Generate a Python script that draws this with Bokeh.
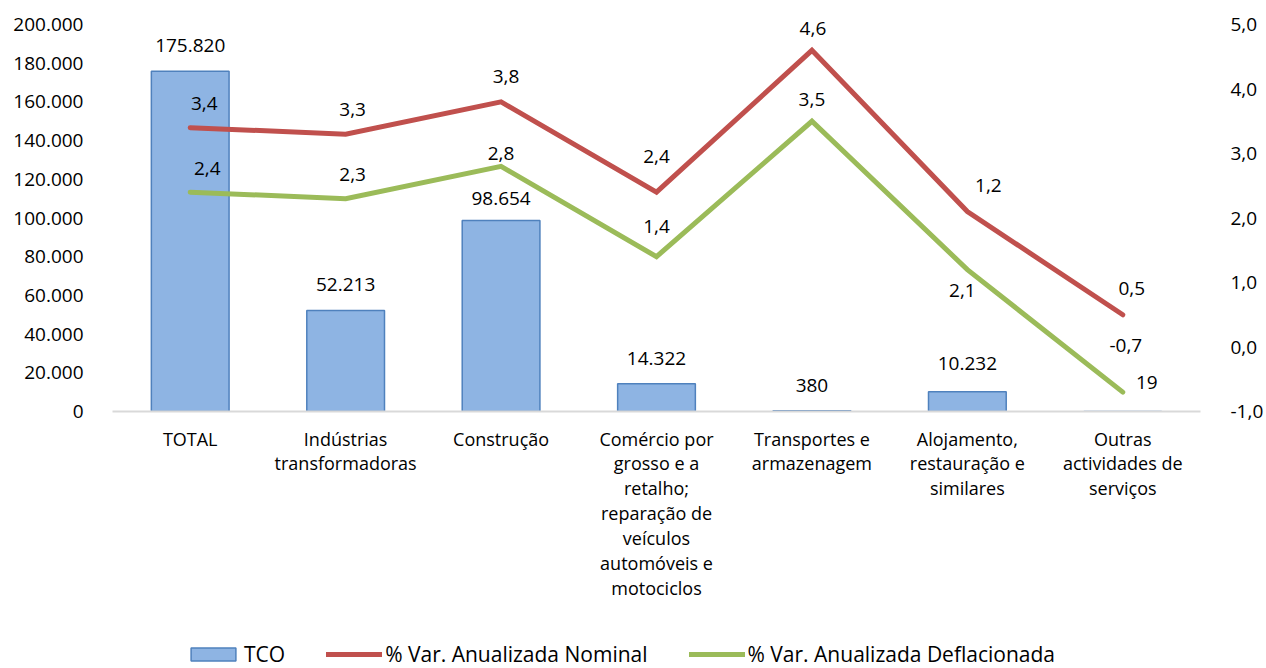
from bokeh.plotting import figure
from bokeh.models import (Range1d, LinearAxis, FixedTicker, ColumnDataSource,
                          Legend, LegendItem)
from bokeh.layouts import column
from bokeh.core.properties import value
from bokeh.embed import file_html
from bokeh.resources import INLINE

# ---------------- data ----------------
categories = ["TOTAL", "Indústrias\ntransformadoras", "Construção",
              "Comércio por\ngrosso e a\nretalho;\nreparação de\nveículos\nautomóveis e\nmotociclos",
              "Transportes e\narmazenagem", "Alojamento,\nrestauração e\nsimilares",
              "Outras\nactividades de\nserviços"]
tco = [175820, 52213, 98654, 14322, 380, 10232, 19]
nominal = [3.4, 3.3, 3.8, 2.4, 4.6, 2.1, 0.5]
deflated = [2.4, 2.3, 2.8, 1.4, 3.5, 1.2, -0.7]
nominal_labels = ["3,4", "3,3", "3,8", "2,4", "4,6", "1,2", "0,5"]
deflated_labels = ["2,4", "2,3", "2,8", "1,4", "3,5", "2,1", "-0,7"]
left_ticks = [0, 20000, 40000, 60000, 80000, 100000, 120000, 140000, 160000, 180000, 200000]
right_ticks = [-1, 0, 1, 2, 3, 4, 5]
series_names = ["TCO", "% Var. Anualizada Nominal", "% Var. Anualizada Deflacionada"]

# label offsets in screen pixels (style)
bar_dx = [0, 0, 0, 0, 0, 0, 24]
bar_dy = [-26, -26, -22, -25, -25, -28, -29]
nom_dx = [14, 7, 5, 0, 1, 21, 9]
nom_dy = [-24, -25, -25, -36, -22, -26, -26]
def_dx = [17, 7, 0, 0, 0, -5, 3]
def_dy = [-24, -24, -13, -30, -22, 21, -47]

FONT = "Open Sans"
FS = "19px"
BAR_FILL = "#8EB4E3"
BAR_LINE = "#4F81BD"
RED = "#C0504D"
GREEN = "#9BBB59"

def thousands(v):
    return f"{v:,}".replace(",", ".")

xs = list(range(len(categories)))
src = ColumnDataSource(dict(
    x=xs, tco=tco, nominal=nominal, deflated=deflated,
    tco_lbl=[thousands(v) for v in tco],
    nom_lbl=nominal_labels, def_lbl=deflated_labels,
    bdx=bar_dx, bdy=bar_dy, ndx=nom_dx, ndy=nom_dy, ddx=def_dx, ddy=def_dy,
))

W, H_MAIN, H_LEG = 1266, 624, 44
TOP_PAD = 24            # px of headroom above the 200.000 / 5,0 gridline
FRAME_H = 387           # px between 0 and 200.000
L_MAX = left_ticks[-1] * (FRAME_H + TOP_PAD) / FRAME_H
R_MIN, R_MAX0 = right_ticks[0], right_ticks[-1]
R_MAX = R_MIN + (R_MAX0 - R_MIN) * (FRAME_H + TOP_PAD) / FRAME_H

p = figure(width=W, height=H_MAIN, output_backend="svg", toolbar_location=None,
           x_range=Range1d(-0.5, len(categories) - 0.5), y_range=Range1d(0, L_MAX),
           min_border_left=112, min_border_right=W - 1203, min_border_top=0,
           min_border_bottom=H_MAIN - 411)
p.outline_line_color = None
p.xgrid.visible = False
p.ygrid.visible = False
p.extra_y_ranges = {"right": Range1d(R_MIN, R_MAX)}

bar_style = dict(fill_color=BAR_FILL, line_color=BAR_LINE, line_width=1.5)
nom_style = dict(line_color=RED, line_width=5, line_cap="round", line_join="miter")
def_style = dict(line_color=GREEN, line_width=5, line_cap="round", line_join="miter")

p.vbar(x="x", top="tco", width=0.5, source=src, **bar_style)
p.line(x="x", y="nominal", source=src, y_range_name="right", **nom_style)
p.line(x="x", y="deflated", source=src, y_range_name="right", **def_style)

common = dict(text_font=value(FONT), text_font_size=FS, text_color="#000000",
              text_align="center", text_baseline="middle")
p.text(x="x", y="tco", text="tco_lbl", x_offset="bdx", y_offset="bdy", source=src, **common)
p.text(x="x", y="nominal", text="nom_lbl", x_offset="ndx", y_offset="ndy", source=src,
       y_range_name="right", **common)
p.text(x="x", y="deflated", text="def_lbl", x_offset="ddx", y_offset="ddy", source=src,
       y_range_name="right", **common)

# left axis
ya = p.yaxis[0]
ya.ticker = FixedTicker(ticks=left_ticks)
ya.major_label_overrides = {t: thousands(t) for t in left_ticks}
ya.axis_line_color = None
ya.major_tick_line_color = None
ya.minor_tick_line_color = None
ya.major_label_standoff = 23
ya.major_label_text_font = FONT
ya.major_label_text_font_size = FS
ya.major_label_text_color = "#000000"

# right axis
ra = LinearAxis(y_range_name="right", ticker=FixedTicker(ticks=right_ticks))
ra.major_label_overrides = {t: f"{t:.1f}".replace(".", ",") for t in right_ticks}
ra.axis_line_color = None
ra.major_tick_line_color = None
ra.minor_tick_line_color = None
ra.major_label_standoff = 24
ra.major_label_text_font = FONT
ra.major_label_text_font_size = FS
ra.major_label_text_color = "#000000"
p.add_layout(ra, "right")

# bottom axis
xa = p.xaxis[0]
xa.ticker = FixedTicker(ticks=xs)
xa.major_label_overrides = {i: c for i, c in enumerate(categories)}
xa.axis_line_color = "#D9D9D9"
xa.axis_line_width = 2
xa.major_tick_line_color = None
xa.minor_tick_line_color = None
xa.major_label_standoff = 9
xa.major_label_text_font = FONT
xa.major_label_text_font_size = "18px"
xa.major_label_text_line_height = 1.04
xa.major_label_text_color = "#000000"

# ---- legend strip: same series; a selection makes every drawn mark transparent,
#      while the legend swatches use the normal glyph styles ----
lsrc = ColumnDataSource(dict(x=xs, tco=tco, nominal=nominal, deflated=deflated))
lsrc.selected.indices = [0]
hide_area = dict(selection_fill_alpha=0, selection_line_alpha=0,
                 nonselection_fill_alpha=0, nonselection_line_alpha=0)
hide_line = dict(selection_line_alpha=0, nonselection_line_alpha=0)

lf = figure(width=W, height=H_LEG, output_backend="svg", toolbar_location=None,
            x_range=Range1d(-0.5, len(categories) - 0.5), y_range=Range1d(0, L_MAX),
            min_border=0, x_axis_type=None, y_axis_type=None)
lf.outline_line_color = None
lf.xgrid.visible = False
lf.ygrid.visible = False
lf.extra_y_ranges = {"right": Range1d(R_MIN, R_MAX)}
r_bar = lf.vbar(x="x", top="tco", width=0.5, source=lsrc, **bar_style, **hide_area)
r_nom = lf.line(x="x", y="nominal", source=lsrc, y_range_name="right", **nom_style, **hide_line)
r_def = lf.line(x="x", y="deflated", source=lsrc, y_range_name="right", **def_style, **hide_line)

legend = Legend(items=[LegendItem(label=series_names[0], renderers=[r_bar]),
                       LegendItem(label=series_names[1], renderers=[r_nom]),
                       LegendItem(label=series_names[2], renderers=[r_def])],
                orientation="horizontal", location=(73, 0),
                padding=0, margin=0, spacing=41, label_standoff=3,
                glyph_width=56, glyph_height=16,
                border_line_color=None, background_fill_color="white",
                background_fill_alpha=1,
                label_text_font=FONT, label_text_font_size="21px",
                label_text_color="#000000")
lf.add_layout(legend, "center")

open("out.html", "w").write(file_html(column(p, lf), INLINE))
